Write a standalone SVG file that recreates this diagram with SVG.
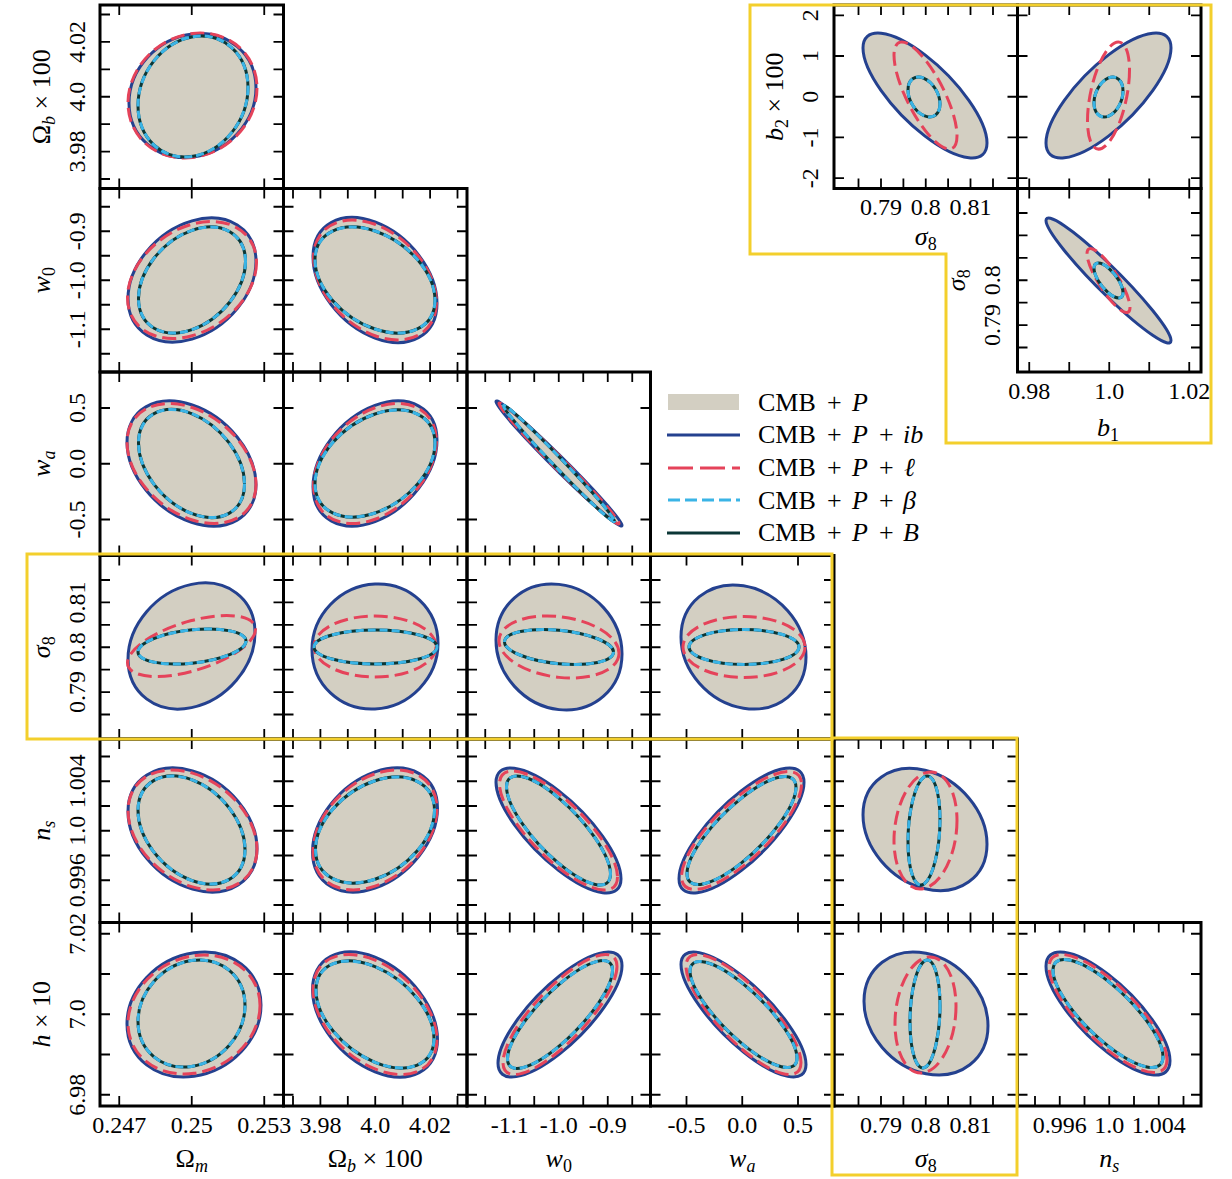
<svg xmlns="http://www.w3.org/2000/svg" xmlns:xlink="http://www.w3.org/1999/xlink" width="1232" height="1179" viewBox="0 0 1232 1179">
<style>
.F{fill:#d3cfc2;stroke:none}
.I{fill:none;stroke:#24418f;stroke-width:3;vector-effect:non-scaling-stroke}
.L{fill:none;stroke:#e5435a;stroke-width:3;stroke-dasharray:14 6;vector-effect:non-scaling-stroke}
.B{fill:none;stroke:#0b3736;stroke-width:3;vector-effect:non-scaling-stroke}
.C{fill:none;stroke:#3ab4e6;stroke-width:3;stroke-dasharray:8 4;vector-effect:non-scaling-stroke}
.fr{fill:none;stroke:#000;stroke-width:3}
.tk{fill:none;stroke:#000;stroke-width:1.8}
.yb{fill:none;stroke:#f3cf2c;stroke-width:3}
text{font-family:"Liberation Serif","Times New Roman",serif;font-size:24px;fill:#000}
.ax{font-size:26px}
.lg{font-size:26px}
.it{font-style:italic}
.sb{font-size:18px}
.tl{text-anchor:middle}
</style>
<defs>
<path id="xtOm" class="tk" d="M119.25 0v10M191.75 0v10M264.25 0v10M119.25 183.5v-10M191.75 183.5v-10M264.25 183.5v-10"/>
<path id="xtOb" class="tk" d="M293 0v10M320.4 0v10M347.8 0v10M375.25 0v10M402.7 0v10M430.1 0v10M457.5 0v10M293 183.5v-10M320.4 183.5v-10M347.8 183.5v-10M375.25 183.5v-10M402.7 183.5v-10M430.1 183.5v-10M457.5 183.5v-10"/>
<path id="xtW0" class="tk" d="M485.25 0v10M509.75 0v10M534.25 0v10M558.75 0v10M583.25 0v10M607.75 0v10M632.25 0v10M485.25 183.5v-10M509.75 183.5v-10M534.25 183.5v-10M558.75 183.5v-10M583.25 183.5v-10M607.75 183.5v-10M632.25 183.5v-10"/>
<path id="xtWa" class="tk" d="M686.5 0v10M742.25 0v10M798 0v10M686.5 183.5v-10M742.25 183.5v-10M798 183.5v-10"/>
<path id="xtS8" class="tk" d="M858.5 0v10M881 0v10M903.4 0v10M925.75 0v10M948.1 0v10M970.5 0v10M993 0v10M858.5 183.5v-10M881 183.5v-10M903.4 183.5v-10M925.75 183.5v-10M948.1 183.5v-10M970.5 183.5v-10M993 183.5v-10"/>
<path id="xtNs" class="tk" d="M1035 0v10M1059.75 0v10M1084.5 0v10M1109.25 0v10M1134 0v10M1158.75 0v10M1183.5 0v10M1035 183.5v-10M1059.75 183.5v-10M1084.5 183.5v-10M1109.25 183.5v-10M1134 183.5v-10M1158.75 183.5v-10M1183.5 183.5v-10"/>
<path id="xtB1" class="tk" d="M1029.25 0v10M1069.25 0v10M1109.25 0v10M1149.25 0v10M1189.25 0v10M1029.25 183.5v-10M1069.25 183.5v-10M1109.25 183.5v-10M1149.25 183.5v-10M1189.25 183.5v-10"/>
<path id="ytOb" class="tk" d="M0 14.5h10M0 41.9h10M0 69.3h10M0 96.75h10M0 124.2h10M0 151.6h10M0 179h10M183.5 14.5h-10M183.5 41.9h-10M183.5 69.3h-10M183.5 96.75h-10M183.5 124.2h-10M183.5 151.6h-10M183.5 179h-10"/>
<path id="ytW0" class="tk" d="M0 206.75h10M0 231.25h10M0 255.75h10M0 280.25h10M0 304.75h10M0 329.25h10M0 353.75h10M183.5 206.75h-10M183.5 231.25h-10M183.5 255.75h-10M183.5 280.25h-10M183.5 304.75h-10M183.5 329.25h-10M183.5 353.75h-10"/>
<path id="ytWa" class="tk" d="M0 408h10M0 463.75h10M0 519.5h10M183.5 408h-10M183.5 463.75h-10M183.5 519.5h-10"/>
<path id="ytS8" class="tk" d="M0 580h10M0 602.4h10M0 624.8h10M0 647.25h10M0 669.7h10M0 692.1h10M0 714.5h10M183.5 580h-10M183.5 602.4h-10M183.5 624.8h-10M183.5 647.25h-10M183.5 669.7h-10M183.5 692.1h-10M183.5 714.5h-10"/>
<path id="ytNs" class="tk" d="M0 756.5h10M0 781.25h10M0 806h10M0 830.75h10M0 855.5h10M0 880.25h10M0 905h10M183.5 756.5h-10M183.5 781.25h-10M183.5 806h-10M183.5 830.75h-10M183.5 855.5h-10M183.5 880.25h-10M183.5 905h-10"/>
<path id="ytH" class="tk" d="M0 933.75h10M0 974h10M0 1014.25h10M0 1054.5h10M0 1094.75h10M183.5 933.75h-10M183.5 974h-10M183.5 1014.25h-10M183.5 1054.5h-10M183.5 1094.75h-10"/>
<path id="ytB2" class="tk" d="M0 15.35h10M0 56h10M0 96.75h10M0 137.45h10M0 178.15h10M183.5 15.35h-10M183.5 56h-10M183.5 96.75h-10M183.5 137.45h-10M183.5 178.15h-10"/>
<path id="ytS8i" class="tk" d="M0 213h10M0 235.4h10M0 257.8h10M0 280.25h10M0 302.7h10M0 325.1h10M0 347.5h10M183.5 213h-10M183.5 235.4h-10M183.5 257.8h-10M183.5 280.25h-10M183.5 302.7h-10M183.5 325.1h-10M183.5 347.5h-10"/>
</defs>
<rect width="1232" height="1179" fill="#fff"/>

<!-- contours -->
<g id="p11">
<circle class="F" r="1" transform="matrix(64 -7.44 0 61.69 192.5 95.5)"/>
<circle class="I" r="1" transform="matrix(63.5 -7.44 0 61.55 192.5 95.5)"/>
<circle class="L" r="1" transform="matrix(64.5 -7.5 0 62.05 192.5 95.5)"/>
<circle class="B" r="1" transform="matrix(55 -9.08 0 59.82 193 96.5)"/>
<circle class="C" r="1" transform="matrix(55 -9.08 0 59.82 193 96.5)"/>
</g>
<g id="p21">
<circle class="F" r="1" transform="matrix(64.5 -18.6 0 59.14 192 280)"/>
<circle class="I" r="1" transform="matrix(64 -18.6 0 59.14 192 280)"/>
<circle class="L" r="1" transform="matrix(64.5 -17.55 0 55.8 192 280)"/>
<circle class="B" r="1" transform="matrix(53.5 -18.55 0 49.65 192 280)"/>
<circle class="C" r="1" transform="matrix(53.5 -18.55 0 49.65 192 280)"/>
</g>
<g id="p22">
<circle class="F" r="1" transform="matrix(62 23.13 0 58.06 375 280)"/>
<circle class="I" r="1" transform="matrix(62 23.13 0 58.06 375 280)"/>
<circle class="L" r="1" transform="matrix(61.5 22.2 0 55.74 375 280)"/>
<circle class="B" r="1" transform="matrix(60 20.14 0 49.03 375 280)"/>
<circle class="C" r="1" transform="matrix(60 20.14 0 49.03 375 280)"/>
</g>
<g id="p31">
<circle class="F" r="1" transform="matrix(64.5 21.25 0 58.78 191.5 463.5)"/>
<circle class="I" r="1" transform="matrix(64.5 21.25 0 58.78 191.5 463.5)"/>
<circle class="L" r="1" transform="matrix(64.5 21 0 56.2 191.5 463.5)"/>
<circle class="B" r="1" transform="matrix(53 20.52 0 49.95 191.5 463.5)"/>
<circle class="C" r="1" transform="matrix(53 20.52 0 49.95 191.5 463.5)"/>
</g>
<g id="p32">
<circle class="F" r="1" transform="matrix(62 -23.13 0 58.06 375 463.5)"/>
<circle class="I" r="1" transform="matrix(62 -23.13 0 58.06 375 463.5)"/>
<circle class="L" r="1" transform="matrix(61.5 -22.2 0 55.74 375 463.5)"/>
<circle class="B" r="1" transform="matrix(60 -20.33 0 49.49 375 463.5)"/>
<circle class="C" r="1" transform="matrix(60 -20.33 0 49.49 375 463.5)"/>
</g>
<g id="p33">
<circle class="F" r="1" transform="matrix(63 61.88 0 8.81 559 463.5)"/>
<circle class="I" r="1" transform="matrix(63 61.88 0 8.81 559 463.5)"/>
<circle class="L" r="1" transform="matrix(60 59.96 0 8.1 559 463.5)"/>
<circle class="B" r="1" transform="matrix(55.5 57.6 0 6.85 559 463.5)"/>
<circle class="C" r="1" transform="matrix(55.5 57.6 0 6.85 559 463.5)"/>
</g>
<g id="p41">
<circle class="F" r="1" transform="matrix(64 -15.75 0 61 191.5 646)"/>
<circle class="I" r="1" transform="matrix(63.5 -13.23 0 61.6 191.5 646)"/>
<circle class="L" r="1" transform="matrix(64 -16.78 0 25.47 191.5 646)"/>
<circle class="B" r="1" transform="matrix(54 -5.43 0 16.64 192 646.5)"/>
<circle class="C" r="1" transform="matrix(54 -5.43 0 16.64 192 646.5)"/>
</g>
<g id="p42">
<circle class="F" r="1" transform="matrix(63 -3.13 0 62.42 375 646.5)"/>
<circle class="I" r="1" transform="matrix(63 -3.13 0 62.42 375 646.5)"/>
<circle class="L" r="1" transform="matrix(61 0 0 30.5 375 646.5)"/>
<circle class="B" r="1" transform="matrix(61.5 0 0 17 375.5 647)"/>
<circle class="C" r="1" transform="matrix(61.5 0 0 17 375.5 647)"/>
</g>
<g id="p43">
<circle class="F" r="1" transform="matrix(63 6.93 0 62.62 559 647)"/>
<circle class="I" r="1" transform="matrix(63 6.93 0 62.62 559 647)"/>
<circle class="L" r="1" transform="matrix(60 6.2 0 30.37 559 647)"/>
<circle class="B" r="1" transform="matrix(54.5 5.08 0 16.75 559 647)"/>
<circle class="C" r="1" transform="matrix(54.5 5.08 0 16.75 559 647)"/>
</g>
<g id="p44">
<circle class="F" r="1" transform="matrix(62.5 9.92 0 61.2 743.5 647)"/>
<circle class="I" r="1" transform="matrix(62.5 9.92 0 61.2 743.5 647)"/>
<circle class="L" r="1" transform="matrix(61 0 0 30.5 744 647)"/>
<circle class="B" r="1" transform="matrix(55 0 0 17.5 744 647)"/>
<circle class="C" r="1" transform="matrix(55 0 0 17.5 744 647)"/>
</g>
<g id="p51">
<circle class="F" r="1" transform="matrix(64.5 18.6 0 59.14 192.5 830)"/>
<circle class="I" r="1" transform="matrix(64.5 18.6 0 59.14 192.5 830)"/>
<circle class="L" r="1" transform="matrix(64.5 19.2 0 56.85 192.5 830)"/>
<circle class="B" r="1" transform="matrix(53.5 19.44 0 50.38 191.5 830)"/>
<circle class="C" r="1" transform="matrix(53.5 19.44 0 50.38 191.5 830)"/>
</g>
<g id="p52">
<circle class="F" r="1" transform="matrix(62.5 -21.7 0 58.08 375 830)"/>
<circle class="I" r="1" transform="matrix(62.5 -21.7 0 58.08 375 830)"/>
<circle class="L" r="1" transform="matrix(62 -21 0 56.2 375 830)"/>
<circle class="B" r="1" transform="matrix(59.5 -19.61 0 49.24 375 830)"/>
<circle class="C" r="1" transform="matrix(59.5 -19.61 0 49.24 375 830)"/>
</g>
<g id="p53">
<circle class="F" r="1" transform="matrix(62.5 48.13 0 39.88 558.5 830.5)"/>
<circle class="I" r="1" transform="matrix(62.5 48.13 0 39.88 558.5 830.5)"/>
<circle class="L" r="1" transform="matrix(59 46.41 0 37.24 558.5 830.5)"/>
<circle class="B" r="1" transform="matrix(52 43.6 0 32.7 558.5 830.5)"/>
<circle class="C" r="1" transform="matrix(52 43.6 0 32.7 558.5 830.5)"/>
</g>
<g id="p54">
<circle class="F" r="1" transform="matrix(62.5 -48.13 0 39.88 741.5 830.5)"/>
<circle class="I" r="1" transform="matrix(62.5 -48.13 0 39.88 741.5 830.5)"/>
<circle class="L" r="1" transform="matrix(60 -46.02 0 36.92 741.5 830.5)"/>
<circle class="B" r="1" transform="matrix(54.5 -43.2 0 32.4 741.5 830.5)"/>
<circle class="C" r="1" transform="matrix(54.5 -43.2 0 32.4 741.5 830.5)"/>
</g>
<g id="p55">
<circle class="F" r="1" transform="matrix(62 14.64 0 59.22 925 829.5)"/>
<circle class="I" r="1" transform="matrix(62 14.64 0 59.22 925 829.5)"/>
<circle class="L" r="1" transform="matrix(31.5 -9.95 0 57.65 925.5 830.5)"/>
<circle class="B" r="1" transform="matrix(16 -10.9 0 53.4 924 830.5)"/>
<circle class="C" r="1" transform="matrix(16 -10.9 0 53.4 924 830.5)"/>
</g>
<g id="p61">
<circle class="F" r="1" transform="matrix(67 -9.38 0 61.79 194 1014.5)"/>
<circle class="I" r="1" transform="matrix(67 -9.38 0 61.79 194 1014.5)"/>
<circle class="L" r="1" transform="matrix(66 -8.93 0 58.83 194 1014.5)"/>
<circle class="B" r="1" transform="matrix(53.5 -8.03 0 52.9 191.5 1013.5)"/>
<circle class="C" r="1" transform="matrix(53.5 -8.03 0 52.9 191.5 1013.5)"/>
</g>
<g id="p62">
<circle class="F" r="1" transform="matrix(62.5 25 0 57.28 375 1014.5)"/>
<circle class="I" r="1" transform="matrix(62.5 25 0 57.28 375 1014.5)"/>
<circle class="L" r="1" transform="matrix(62 25.2 0 54.45 375 1014.5)"/>
<circle class="B" r="1" transform="matrix(59 24.08 0 47.78 375 1014.5)"/>
<circle class="C" r="1" transform="matrix(59 24.08 0 47.78 375 1014.5)"/>
</g>
<g id="p63">
<circle class="F" r="1" transform="matrix(62 -48.75 0 39.11 560 1014.5)"/>
<circle class="I" r="1" transform="matrix(62 -48.75 0 39.11 560 1014.5)"/>
<circle class="L" r="1" transform="matrix(57 -48 0 36 560 1014.5)"/>
<circle class="B" r="1" transform="matrix(52.5 -44.28 0 30.91 560 1014.5)"/>
<circle class="C" r="1" transform="matrix(52.5 -44.28 0 30.91 560 1014.5)"/>
</g>
<g id="p64">
<circle class="F" r="1" transform="matrix(62.5 50 0 37.5 743.5 1014.5)"/>
<circle class="I" r="1" transform="matrix(62.5 50 0 37.5 743.5 1014.5)"/>
<circle class="L" r="1" transform="matrix(57.5 48 0 36 743.5 1014.5)"/>
<circle class="B" r="1" transform="matrix(53.5 43.46 0 30.34 743.5 1014.5)"/>
<circle class="C" r="1" transform="matrix(53.5 43.46 0 30.34 743.5 1014.5)"/>
</g>
<g id="p65">
<circle class="F" r="1" transform="matrix(62 12.3 0 60.26 926 1013.5)"/>
<circle class="I" r="1" transform="matrix(62 12.3 0 60.26 926 1013.5)"/>
<circle class="L" r="1" transform="matrix(30.5 -8.7 0 57.34 925.5 1015)"/>
<circle class="B" r="1" transform="matrix(15 -8.1 0 53.39 925 1014)"/>
<circle class="C" r="1" transform="matrix(15 -8.1 0 53.39 925 1014)"/>
</g>
<g id="p66">
<circle class="F" r="1" transform="matrix(62 47.36 0 39.24 1108 1013.5)"/>
<circle class="I" r="1" transform="matrix(62 47.36 0 39.24 1108 1013.5)"/>
<circle class="L" r="1" transform="matrix(59 46.02 0 36.92 1108 1013.5)"/>
<circle class="B" r="1" transform="matrix(55 43.2 0 32.4 1108 1013.5)"/>
<circle class="C" r="1" transform="matrix(55 43.2 0 32.4 1108 1013.5)"/>
</g>
<g id="inset-s8-b2">
<circle class="F" r="1" transform="matrix(62 47.5 0 40.63 925 95.5)"/>
<circle class="I" r="1" transform="matrix(62 47.5 0 40.63 925 95.5)"/>
<circle class="L" r="1" transform="matrix(31.5 40.13 0 35.38 925.5 95.5)"/>
<circle class="B" r="1" transform="matrix(16 7 0 18.73 924 97)"/>
<circle class="C" r="1" transform="matrix(16 7 0 18.73 924 97)"/>
</g>
<g id="inset-b1-b2">
<circle class="F" r="1" transform="matrix(62.5 -47.5 0 40.63 1108.5 95.5)"/>
<circle class="I" r="1" transform="matrix(62.5 -47.5 0 40.63 1108.5 95.5)"/>
<circle class="L" r="1" transform="matrix(21 -25.15 0 47.22 1108.5 95.5)"/>
<circle class="B" r="1" transform="matrix(14.5 -6 0 19.08 1108.5 97)"/>
<circle class="C" r="1" transform="matrix(14.5 -6 0 19.08 1108.5 97)"/>
</g>
<g id="inset-b1-s8">
<circle class="F" r="1" transform="matrix(62.5 60 0 17.5 1108.5 280.5)"/>
<circle class="I" r="1" transform="matrix(62.5 60 0 17.5 1108.5 280.5)"/>
<circle class="L" r="1" transform="matrix(21.5 26.88 0 17.36 1108.5 280.5)"/>
<circle class="B" r="1" transform="matrix(14.5 12.25 0 12.5 1108.5 280.5)"/>
<circle class="C" r="1" transform="matrix(14.5 12.25 0 12.5 1108.5 280.5)"/>
</g>

<!-- frames and ticks -->
<g id="axes">
<rect class="fr" x="100" y="5" width="183.5" height="183.5"/>
<use xlink:href="#xtOm" y="5"/><use xlink:href="#ytOb" x="100"/>
<rect class="fr" x="834" y="5" width="183.5" height="183.5"/>
<use xlink:href="#xtS8" y="5"/><use xlink:href="#ytB2" x="834"/>
<rect class="fr" x="1017.5" y="5" width="183.5" height="183.5"/>
<use xlink:href="#xtB1" y="5"/><use xlink:href="#ytB2" x="1017.5"/>

<rect class="fr" x="100" y="188.5" width="183.5" height="183.5"/>
<rect class="fr" x="283.5" y="188.5" width="183.5" height="183.5"/>
<use xlink:href="#xtOm" y="188.5"/><use xlink:href="#xtOb" y="188.5"/>
<use xlink:href="#ytW0" x="100"/><use xlink:href="#ytW0" x="283.5"/>
<rect class="fr" x="1017.5" y="188.5" width="183.5" height="183.5"/>
<use xlink:href="#xtB1" y="188.5"/><use xlink:href="#ytS8i" x="1017.5"/>

<rect class="fr" x="100" y="372" width="183.5" height="183.5"/>
<rect class="fr" x="283.5" y="372" width="183.5" height="183.5"/>
<rect class="fr" x="467" y="372" width="183.5" height="183.5"/>
<use xlink:href="#xtOm" y="372"/><use xlink:href="#xtOb" y="372"/><use xlink:href="#xtW0" y="372"/>
<use xlink:href="#ytWa" x="100"/><use xlink:href="#ytWa" x="283.5"/><use xlink:href="#ytWa" x="467"/>

<rect class="fr" x="100" y="555.5" width="183.5" height="183.5"/>
<rect class="fr" x="283.5" y="555.5" width="183.5" height="183.5"/>
<rect class="fr" x="467" y="555.5" width="183.5" height="183.5"/>
<rect class="fr" x="650.5" y="555.5" width="183.5" height="183.5"/>
<use xlink:href="#xtOm" y="555.5"/><use xlink:href="#xtOb" y="555.5"/><use xlink:href="#xtW0" y="555.5"/><use xlink:href="#xtWa" y="555.5"/>
<use xlink:href="#ytS8" x="100"/><use xlink:href="#ytS8" x="283.5"/><use xlink:href="#ytS8" x="467"/><use xlink:href="#ytS8" x="650.5"/>

<rect class="fr" x="100" y="739" width="183.5" height="183.5"/>
<rect class="fr" x="283.5" y="739" width="183.5" height="183.5"/>
<rect class="fr" x="467" y="739" width="183.5" height="183.5"/>
<rect class="fr" x="650.5" y="739" width="183.5" height="183.5"/>
<rect class="fr" x="834" y="739" width="183.5" height="183.5"/>
<use xlink:href="#xtOm" y="739"/><use xlink:href="#xtOb" y="739"/><use xlink:href="#xtW0" y="739"/><use xlink:href="#xtWa" y="739"/><use xlink:href="#xtS8" y="739"/>
<use xlink:href="#ytNs" x="100"/><use xlink:href="#ytNs" x="283.5"/><use xlink:href="#ytNs" x="467"/><use xlink:href="#ytNs" x="650.5"/><use xlink:href="#ytNs" x="834"/>

<rect class="fr" x="100" y="922.5" width="183.5" height="183.5"/>
<rect class="fr" x="283.5" y="922.5" width="183.5" height="183.5"/>
<rect class="fr" x="467" y="922.5" width="183.5" height="183.5"/>
<rect class="fr" x="650.5" y="922.5" width="183.5" height="183.5"/>
<rect class="fr" x="834" y="922.5" width="183.5" height="183.5"/>
<rect class="fr" x="1017.5" y="922.5" width="183.5" height="183.5"/>
<use xlink:href="#xtOm" y="922.5"/><use xlink:href="#xtOb" y="922.5"/><use xlink:href="#xtW0" y="922.5"/><use xlink:href="#xtWa" y="922.5"/><use xlink:href="#xtS8" y="922.5"/><use xlink:href="#xtNs" y="922.5"/>
<use xlink:href="#ytH" x="100"/><use xlink:href="#ytH" x="283.5"/><use xlink:href="#ytH" x="467"/><use xlink:href="#ytH" x="650.5"/><use xlink:href="#ytH" x="834"/><use xlink:href="#ytH" x="1017.5"/>
</g>

<!-- highlight boxes -->
<g id="highlights">
<polygon class="yb" points="750,5 1211,5 1211,443 946,443 946,254 750,254"/>
<rect class="yb" x="27" y="554" width="805" height="185"/>
<rect class="yb" x="832" y="738" width="185" height="437"/>
</g>

<!-- legend -->
<g id="legend">
<rect x="668" y="394" width="71" height="16" fill="#d3cfc2"/>
<path d="M667 435H740" fill="none" stroke="#24418f" stroke-width="3"/>
<path d="M668 468H740" fill="none" stroke="#e5435a" stroke-width="3" stroke-dasharray="25 7"/>
<path d="M668 500H740" fill="none" stroke="#3ab4e6" stroke-width="3" stroke-dasharray="12 5"/>
<path d="M667 533H740" fill="none" stroke="#0b3736" stroke-width="3"/>
<text class="lg" x="758" y="411">CMB<tspan x="827">+</tspan><tspan x="852" class="it">P</tspan></text>
<text class="lg" x="758" y="443">CMB<tspan x="827">+</tspan><tspan x="852" class="it">P</tspan><tspan x="879">+</tspan><tspan x="903" class="it">ib</tspan></text>
<text class="lg" x="758" y="476">CMB<tspan x="827">+</tspan><tspan x="852" class="it">P</tspan><tspan x="879">+</tspan><tspan x="904" class="it">ℓ</tspan></text>
<text class="lg" x="758" y="509">CMB<tspan x="827">+</tspan><tspan x="852" class="it">P</tspan><tspan x="879">+</tspan><tspan x="903" class="it">β</tspan></text>
<text class="lg" x="758" y="541">CMB<tspan x="827">+</tspan><tspan x="852" class="it">P</tspan><tspan x="879">+</tspan><tspan x="903" class="it">B</tspan></text>
</g>

<!-- tick labels -->
<g id="ticklabels" class="tl">
<text transform="translate(85,41.9) rotate(-90)">4.02</text>
<text transform="translate(85,96.75) rotate(-90)">4.0</text>
<text transform="translate(85,151.6) rotate(-90)">3.98</text>
<text transform="translate(85,231.25) rotate(-90)">-0.9</text>
<text transform="translate(85,280.25) rotate(-90)">-1.0</text>
<text transform="translate(85,329.25) rotate(-90)">-1.1</text>
<text transform="translate(85,408) rotate(-90)">0.5</text>
<text transform="translate(85,463.75) rotate(-90)">0.0</text>
<text transform="translate(85,519.5) rotate(-90)">-0.5</text>
<text transform="translate(85,602.4) rotate(-90)">0.81</text>
<text transform="translate(85,647.25) rotate(-90)">0.8</text>
<text transform="translate(85,692.1) rotate(-90)">0.79</text>
<text transform="translate(85,781.25) rotate(-90)">1.004</text>
<text transform="translate(85,830.75) rotate(-90)">1.0</text>
<text transform="translate(85,880.25) rotate(-90)">0.996</text>
<text transform="translate(85,933.75) rotate(-90)">7.02</text>
<text transform="translate(85,1014.25) rotate(-90)">7.0</text>
<text transform="translate(85,1094.75) rotate(-90)">6.98</text>

<text x="119.25" y="1133">0.247</text>
<text x="191.75" y="1133">0.25</text>
<text x="264.25" y="1133">0.253</text>
<text x="320.4" y="1133">3.98</text>
<text x="375.25" y="1133">4.0</text>
<text x="430.1" y="1133">4.02</text>
<text x="509.75" y="1133">-1.1</text>
<text x="558.75" y="1133">-1.0</text>
<text x="607.75" y="1133">-0.9</text>
<text x="686.5" y="1133">-0.5</text>
<text x="742.25" y="1133">0.0</text>
<text x="798" y="1133">0.5</text>
<text x="881" y="1133">0.79</text>
<text x="925.75" y="1133">0.8</text>
<text x="970.5" y="1133">0.81</text>
<text x="1059.75" y="1133">0.996</text>
<text x="1109.25" y="1133">1.0</text>
<text x="1158.75" y="1133">1.004</text>

<text transform="translate(818,15.35) rotate(-90)">2</text>
<text transform="translate(818,56) rotate(-90)">1</text>
<text transform="translate(818,96.75) rotate(-90)">0</text>
<text transform="translate(818,137.45) rotate(-90)">-1</text>
<text transform="translate(818,178.15) rotate(-90)">-2</text>
<text x="881" y="215">0.79</text>
<text x="925.75" y="215">0.8</text>
<text x="970.5" y="215">0.81</text>
<text transform="translate(1000,280.25) rotate(-90)">0.8</text>
<text transform="translate(1000,325.1) rotate(-90)">0.79</text>
<text x="1029.25" y="399">0.98</text>
<text x="1109.25" y="399">1.0</text>
<text x="1189.25" y="399">1.02</text>
</g>

<!-- axis labels -->
<g id="axislabels" class="tl">
<text class="ax" transform="translate(50,96.75) rotate(-90)">Ω<tspan class="sb it" dy="5">b</tspan><tspan dy="-5"> × 100</tspan></text>
<text class="ax" transform="translate(50,280.25) rotate(-90)"><tspan class="it">w</tspan><tspan class="sb" dy="5">0</tspan></text>
<text class="ax" transform="translate(50,463.75) rotate(-90)"><tspan class="it">w</tspan><tspan class="sb it" dy="5">a</tspan></text>
<text class="ax" transform="translate(50,647.25) rotate(-90)"><tspan class="it">σ</tspan><tspan class="sb" dy="5">8</tspan></text>
<text class="ax" transform="translate(50,830.75) rotate(-90)"><tspan class="it">n</tspan><tspan class="sb it" dy="5">s</tspan></text>
<text class="ax" transform="translate(50,1014.25) rotate(-90)"><tspan class="it">h</tspan> × 10</text>

<text class="ax" x="191.75" y="1167">Ω<tspan class="sb it" dy="5">m</tspan></text>
<text class="ax" x="375.25" y="1167">Ω<tspan class="sb it" dy="5">b</tspan><tspan dy="-5"> × 100</tspan></text>
<text class="ax" x="558.75" y="1167"><tspan class="it">w</tspan><tspan class="sb" dy="5">0</tspan></text>
<text class="ax" x="742.25" y="1167"><tspan class="it">w</tspan><tspan class="sb it" dy="5">a</tspan></text>
<text class="ax" x="925.75" y="1167"><tspan class="it">σ</tspan><tspan class="sb" dy="5">8</tspan></text>
<text class="ax" x="1109.25" y="1167"><tspan class="it">n</tspan><tspan class="sb it" dy="5">s</tspan></text>

<text class="ax" transform="translate(783,96.75) rotate(-90)"><tspan class="it">b</tspan><tspan class="sb" dy="5">2</tspan><tspan dy="-5"> × 100</tspan></text>
<text class="ax" x="925.75" y="245"><tspan class="it">σ</tspan><tspan class="sb" dy="5">8</tspan></text>
<text class="ax" transform="translate(965,280.25) rotate(-90)"><tspan class="it">σ</tspan><tspan class="sb" dy="5">8</tspan></text>
<text class="ax" x="1108" y="436"><tspan class="it">b</tspan><tspan class="sb" dy="5">1</tspan></text>
</g>
</svg>
